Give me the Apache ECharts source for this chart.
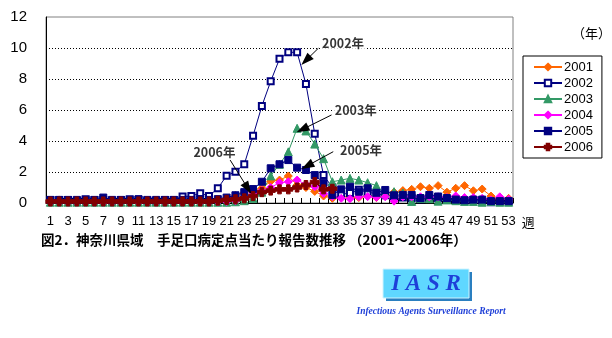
<!DOCTYPE html>
<html><head><meta charset="utf-8">
<script src="https://cdn.jsdelivr.net/npm/echarts@6/dist/echarts.min.js"></script>
<style>html,body{margin:0;padding:0;background:#fff}#c{width:612px;height:338px}</style>
</head><body><div id="c"></div>
<script>
// ---- data ----
const weeks = ['1','2','3','4','5','6','7','8','9','10','11','12','13','14','15','16','17','18','19','20','21','22','23','24','25','26','27','28','29','30','31','32','33','34','35','36','37','38','39','40','41','42','43','44','45','46','47','48','49','50','51','52','53'];
const y2001 = [0.15,0.2,0.1,0.15,0.1,0.15,0.1,0.15,0.1,0.1,0.1,0.15,0.1,0.1,0.15,0.15,0.15,0.2,0.2,0.2,0.3,0.5,0.65,0.85,0.95,1.4,1.48,1.74,1.16,1.0,0.75,0.45,0.3,0.4,0.4,0.35,0.45,0.35,0.45,0.7,0.8,0.88,1.05,0.95,1.12,0.7,0.95,1.12,0.79,0.9,0.45,0.2,0.3];
const y2002 = [0.2,0.2,0.2,0.15,0.25,0.2,0.2,0.15,0.2,0.25,0.2,0.15,0.15,0.2,0.2,0.42,0.45,0.63,0.45,0.95,1.76,2.02,2.5,4.34,6.26,7.85,9.3,9.72,9.72,7.68,4.47,1.8,1.0,0.55,0.65,0.85,0.7,0.6,0.5,0.45,0.35,0.3,0.25,0.3,0.3,0.2,0.25,0.15,0.2,0.15,0.05,0.1,0.1];
const y2003 = [0.05,0.05,0.05,0.05,0.05,0.05,0.05,0.05,0.05,0.05,0.05,0.05,0.05,0.05,0.05,0.05,0.05,0.05,0.05,0.05,0.05,0.08,0.15,0.3,0.7,1.75,2.5,3.3,4.82,4.65,3.8,2.86,1.37,1.48,1.59,1.48,1.31,1.12,0.6,0.73,0.65,0.1,0.3,0.28,0.12,0.2,0.15,0.1,0.1,0.05,0.1,0.05,0.05];
const y2004 = [0.05,0.05,0.05,0.05,0.05,0.05,0.05,0.05,0.05,0.05,0.05,0.05,0.05,0.05,0.05,0.05,0.05,0.05,0.05,0.08,0.1,0.15,0.3,0.66,0.8,1.0,1.31,1.37,1.48,1.2,1.05,0.62,0.41,0.3,0.28,0.41,0.41,0.37,0.4,0.12,0.4,0.4,0.4,0.4,0.4,0.35,0.45,0.35,0.35,0.3,0.2,0.4,0.25];
const y2005 = [0.2,0.2,0.2,0.2,0.2,0.2,0.35,0.2,0.2,0.2,0.25,0.2,0.2,0.2,0.2,0.2,0.2,0.25,0.2,0.25,0.35,0.5,0.7,0.9,1.37,2.24,2.5,2.77,2.28,2.13,1.8,1.31,0.52,0.88,1.05,0.73,0.95,0.66,0.84,0.5,0.52,0.52,0.32,0.52,0.42,0.32,0.22,0.18,0.22,0.22,0.12,0.12,0.12];
const y2006 = [0.1,0.1,0.1,0.1,0.1,0.1,0.1,0.1,0.1,0.1,0.1,0.1,0.1,0.1,0.1,0.1,0.1,0.1,0.1,0.15,0.2,0.24,0.3,0.45,0.7,0.8,0.88,0.88,1.0,1.16,1.35,0.88,0.92];
const seriesNames = ['2001','2002','2003','2004','2005','2006'];
const yTicks = [0,2,4,6,8,10,12];
// annotations, in data units (week, value)
const annoText = ['2002年','2003年','2005年','2006年'];
const annoTextAt = [[31.6,10.32],[33.05,6.0],[33.65,3.42],[17.0,3.29]];
const annoFrom = [[31.4,9.98],[32.9,5.68],[33.1,3.31],[21.4,2.77]];
const annoTo = [[30.0,9.2],[29.6,4.75],[30.15,2.4],[23.4,0.95]];

const chart = echarts.init(document.getElementById('c'), null, {renderer:'canvas'});
const cjk = '"Noto Sans CJK JP", "Noto Sans", sans-serif';
const num = '"Liberation Sans", Arial, sans-serif';
const plusPath = 'path://M3,0 H7 V3 H10 V7 H7 V10 H3 V7 H0 V3 H3 Z';

function lineSeries(name, data, color, symbol, size, width, extra) {
  return Object.assign({
    name, type:'line', data, xAxisIndex:0, yAxisIndex:0,
    symbol, symbolSize:size, showAllSymbol:true,
    lineStyle:{color, width}, itemStyle:{color, borderColor:color, borderWidth:1},
    animation:false, z:2
  }, extra||{});
}

const series = [
  lineSeries('2001', y2001, '#FF6600', 'diamond', 8, 1),
  lineSeries('2002', y2002, '#000080', 'emptyRect', 6, 1, {itemStyle:{color:'#000080', borderColor:'#000080', borderWidth:1}}),
  lineSeries('2003', y2003, '#339966', 'triangle', 8, 1),
  lineSeries('2004', y2004, '#FF00FF', 'diamond', 8, 1),
  lineSeries('2005', y2005, '#000080', 'rect', 7, 1),
  lineSeries('2006', y2006, '#800000', plusPath, 9, 2),
  {
    name:'anno', type:'scatter', xAxisIndex:1, yAxisIndex:0, symbolSize:0, animation:false, z:5,
    data: annoText.map((t,i)=>({value:annoTextAt[i], name:t})),
    label:{show:true, position:'right', distance:0, formatter:p=>p.name,
      fontFamily:cjk, fontWeight:'bold', fontSize:12.5, color:'#000',
      backgroundColor:'#fff', padding:[1,2,0,2]},
    markLine:{silent:true, animation:false, symbol:['none','triangle'], symbolSize:[9,13],
      lineStyle:{color:'#000', width:1, type:'solid'}, label:{show:false},
      data: annoFrom.map((f,i)=>[{coord:f},{coord:annoTo[i]}])}
  }
];

chart.setOption({
  backgroundColor:'#fff',
  animation:false,
  grid:{left:46, right:99, top:17, bottom:135, show:true, borderColor:'#808080', borderWidth:1, backgroundColor:'#fff'},
  legend:{
    data:seriesNames, orient:'vertical', left:523, top:56,
    itemWidth:28, itemHeight:8, itemGap:2,
    borderColor:'#000', borderWidth:1, padding:[4,9,4,10], backgroundColor:'#fff',
    textStyle:{fontFamily:num, fontSize:13, lineHeight:14, color:'#000', padding:[0,0,0,-3]}
  },
  xAxis:[{
    type:'category', data:weeks, boundaryGap:true,
    axisLine:{show:true, lineStyle:{color:'#000', width:1}},
    axisTick:{show:true, inside:true, length:5, interval:0, lineStyle:{color:'#000'}},
    axisLabel:{interval:1, fontFamily:num, fontSize:13, color:'#000', margin:12},
    splitLine:{show:false},
    name:'週', nameLocation:'end', nameGap:7,
    nameTextStyle:{fontFamily:cjk, fontSize:13, color:'#000', verticalAlign:'top', padding:[13,0,0,0]}
  },{
    type:'value', min:0.5, max:53.5, show:false, position:'bottom'
  }],
  yAxis:{
    type:'value', min:yTicks[0], max:yTicks[yTicks.length-1], interval:2,
    axisLine:{show:true, lineStyle:{color:'#000', width:1}},
    axisTick:{show:false},
    axisLabel:{fontFamily:num, fontSize:15, color:'#000', margin:19},
    splitLine:{show:true, lineStyle:{type:[1,2], width:1, color:['#000','#000','#000','#000','#000','#000','rgba(0,0,0,0)']}}
  },
  graphic:[
    {type:'text', left:572, top:27, style:{text:'（年）', font:'13px '+cjk, fill:'#000'}},
    {type:'text', left:41, top:233, style:{text:'図2．神奈川県域　手足口病定点当たり報告数推移 （2001～2006年）', font:'bold 13.5px '+cjk, fill:'#000'}},
    {type:'rect', shape:{x:386, y:272, width:86, height:29}, style:{fill:'#2A7FC0'}},
    {type:'rect', shape:{x:383, y:269, width:86, height:29}, style:{fill:'#5FD7FF', stroke:'#CFF4FF', lineWidth:1}},
    {type:'text', x:426, y:284, style:{text:'I A S R', font:'italic bold 23px "Liberation Serif", serif', fill:'#1E3FD8', align:'center', verticalAlign:'middle'}},
    {type:'text', x:431, y:312, style:{text:'Infectious Agents Surveillance Report', font:'italic bold 9.5px "Liberation Serif", serif', fill:'#1E3FD8', align:'center', verticalAlign:'middle'}}
  ],
  series
});
</script>
</body></html>
